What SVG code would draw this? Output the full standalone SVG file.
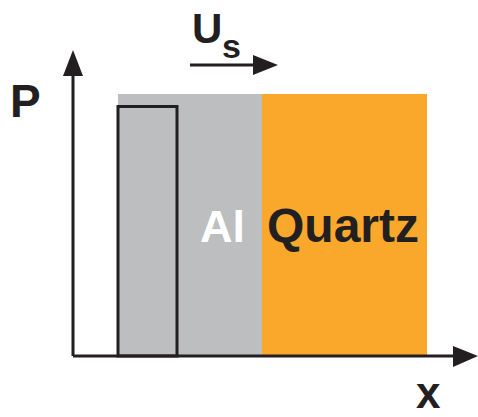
<svg xmlns="http://www.w3.org/2000/svg" width="478" height="417" viewBox="0 0 478 417">
<style>
.ax{stroke:#231f20;stroke-width:3;fill:none}
.t{font-family:"Liberation Sans",Arial,sans-serif;font-weight:bold;fill:#231f20}
</style>
<rect width="478" height="417" fill="#fff"/>
<g id="al"><rect x="118" y="94" width="144" height="262" fill="#bcbec0"/><text class="t" x="200" y="242" font-size="45" style="fill:#fff">Al</text></g>
<g id="quartz"><rect x="262" y="94" width="165" height="262" fill="#f9a82c"/><text class="t" x="267" y="242" font-size="48">Quartz</text></g>
<g id="pulse"><rect x="118" y="106.5" width="59" height="249.5" class="ax" stroke-width="2.5"/></g>
<g id="connectors">
<path class="ax" d="M73 356V70M73 356H458"/>
<polygon points="73,50 63,76 83,76" fill="#231f20"/>
<polygon points="478,356 453,346 453,367" fill="#231f20"/>
<path class="ax" d="M190 65H262"/>
<polygon points="278,65 253,55 253,75" fill="#231f20"/>
</g>
<g id="labels">
<text class="t" x="10" y="117" font-size="46">P</text>
<text class="t" x="192" y="43" font-size="42">U</text>
<text class="t" x="222" y="58" font-size="34">s</text>
<text class="t" x="416" y="408" font-size="44">x</text>
</g>
</svg>
